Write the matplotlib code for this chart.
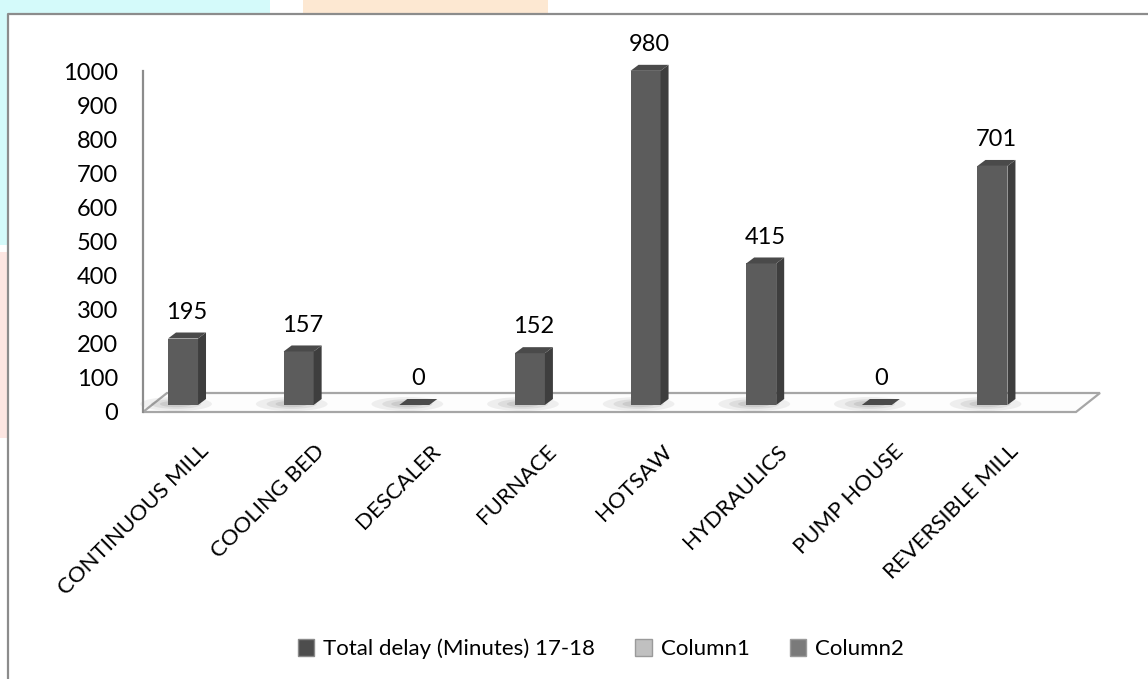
import matplotlib
matplotlib.use("Agg")
import matplotlib.pyplot as plt
from matplotlib.patches import Polygon, Rectangle, Patch, Ellipse
from matplotlib.lines import Line2D

categories = ["CONTINUOUS MILL", "COOLING BED", "DESCALER", "FURNACE",
              "HOTSAW", "HYDRAULICS", "PUMP HOUSE", "REVERSIBLE MILL"]
delay = [195, 157, 0, 152, 980, 415, 0, 701]
yticks = [0, 100, 200, 300, 400, 500, 600, 700, 800, 900, 1000]
legend_labels = ["Total delay (Minutes) 17-18", "Column1", "Column2"]

plt.rcParams["font.family"] = ["Lato", "DejaVu Sans"]

W, H = 1148, 679
fig = plt.figure(figsize=(W / 100, H / 100), dpi=100)

# faint watermark bits outside the frame
for x0, y0, w, h, c in [(0, 0, 270, 14, "#d4fafa"), (303, 0, 245, 14, "#fde8d2"),
                        (0, 0, 8, 245, "#d4fafa"), (0, 252, 8, 186, "#fde6e2")]:
    fig.patches.append(Rectangle((x0 / W, 1 - (y0 + h) / H), w / W, h / H,
                                 transform=fig.transFigure, color=c, lw=0, zorder=0))
# chart frame (top + left edge visible)
fig.lines.append(Line2D([8 / W, 8 / W, 1], [0, 1 - 14 / H, 1 - 14 / H],
                        transform=fig.transFigure, color="#8c8c8c", lw=1.6))

# axes: x from 143 to 1100 px, y from 412 (0) to 71 (1000)
ax = fig.add_axes([143 / W, 1 - 412 / H, (1100 - 143) / W, 341 / H])
ax.set_xlim(-0.346, 7.93)
ax.set_ylim(0, 1000)
ax.patch.set_visible(False)
for s in ["top", "right", "bottom"]:
    ax.spines[s].set_visible(False)
ax.spines["left"].set_color("#8c8c8c")
ax.spines["left"].set_linewidth(1.6)
ax.set_yticks(yticks)
ax.tick_params(axis="y", length=0, pad=18, labelsize=17)
ax.set_xticks([])

ppx = ax.transData.transform((1, 0))[0] - ax.transData.transform((0, 0))[0]
ppy = ax.transData.transform((0, 1))[1] - ax.transData.transform((0, 0))[1]

# floor (3d plane)
fdx, fdy = 24 / 957, 19 / 341
ax.add_patch(Polygon([(0, 0), (fdx, fdy), (1, fdy), (1 - fdx, 0)], closed=True,
                     transform=ax.transAxes, facecolor="#fdfdfd", edgecolor="#a6a6a6",
                     lw=1.6, clip_on=False, zorder=1))

xs = list(range(len(categories)))
w = 30 / ppx
lift = 7 / ppy
sx, sy = 8 / ppx, 6 / ppy

# soft shadows on the floor
for x in xs:
    for k, a in [(1.0, 0.10), (0.7, 0.13), (0.45, 0.16)]:
        ax.add_patch(Ellipse((x - 0.06, lift + 1 / ppy), 0.62 * k, 14 / ppy * k,
                             color="#707070", alpha=a, lw=0, zorder=2, clip_on=False))

bars = ax.bar(xs, delay, width=w, bottom=lift, color="#5c5c5c", zorder=4, clip_on=False)
for x, v in zip(xs, delay):
    top = lift + v
    xr = x + w / 2
    xl = x - w / 2
    ax.add_patch(Polygon([(xr, lift), (xr + sx, lift + sy), (xr + sx, top + sy), (xr, top)],
                         closed=True, facecolor="#3e3e3e", lw=0, zorder=4, clip_on=False))
    ax.add_patch(Polygon([(xl, top), (xl + sx, top + sy), (xr + sx, top + sy), (xr, top)],
                         closed=True, facecolor="#4a4a4a", lw=0, zorder=4, clip_on=False))
    ax.annotate(str(v), (x + sx / 2, top), xytext=(0, 19), textcoords="offset points",
                ha="center", va="center", fontsize=17, zorder=5)
    ax.annotate(categories[x], (x + 0.2, 0), xytext=(0, -26), textcoords="offset points",
                ha="right", va="center", rotation=45, rotation_mode="anchor", fontsize=16)

handles = [Patch(facecolor="#4d4d4d", edgecolor="#8a8a8a"),
           Patch(facecolor="#c0c0c0", edgecolor="#9a9a9a"),
           Patch(facecolor="#7a7a7a", edgecolor="#9a9a9a")]
fig.legend(handles, legend_labels, loc="center", bbox_to_anchor=(601 / W, 1 - 649 / H),
           ncol=3, frameon=False, fontsize=16, handlelength=0.75, handleheight=0.75,
           handletextpad=0.4, columnspacing=1.8)

fig.savefig("out.png", dpi=100)
